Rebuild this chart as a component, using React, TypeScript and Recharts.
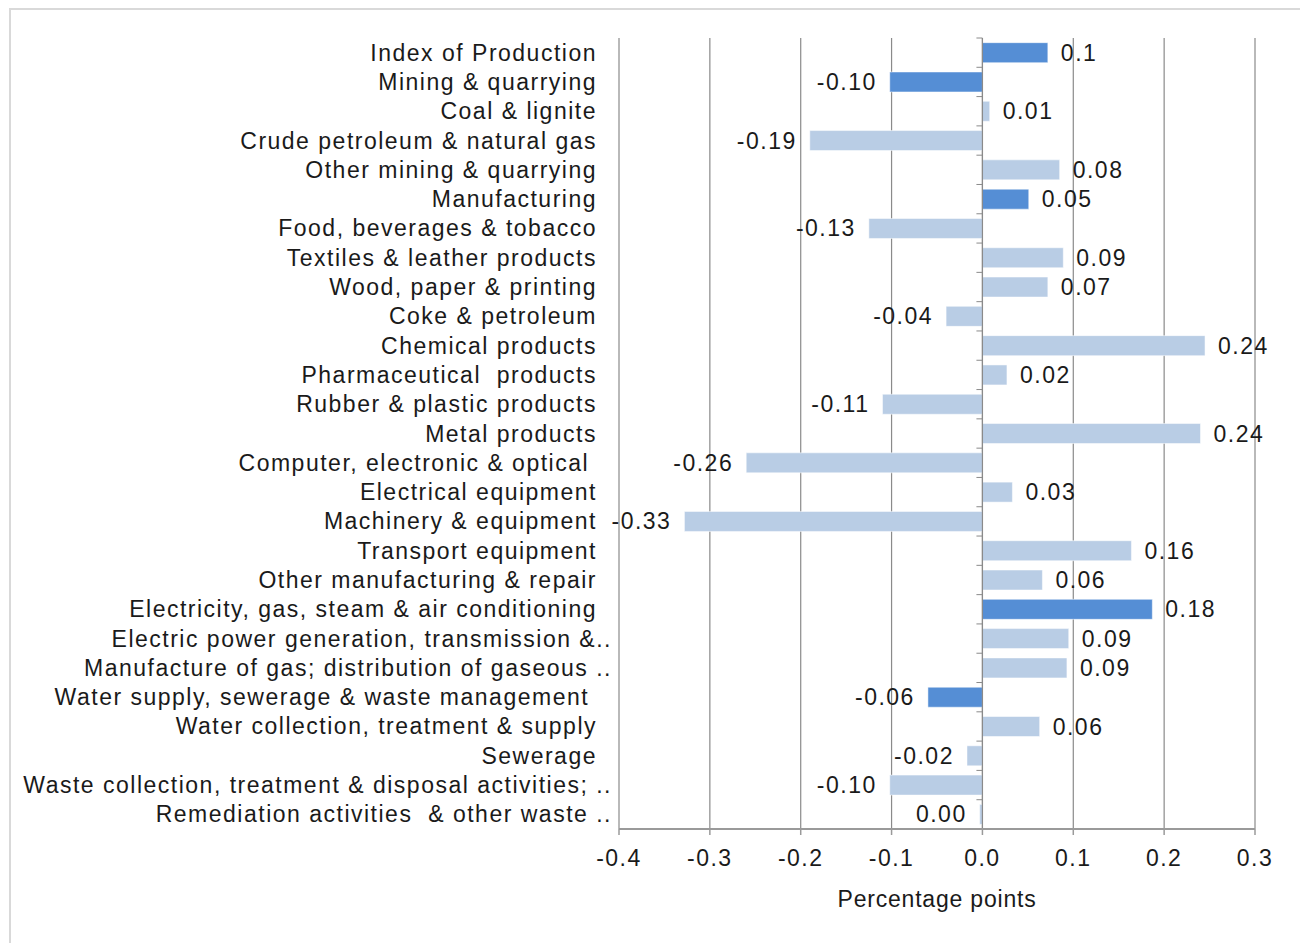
import React from 'react';
import { BarChart, Bar, XAxis, YAxis, CartesianGrid, Cell, LabelList, ReferenceLine } from 'recharts';

const categories = [
  'Index of Production',
  'Mining & quarrying',
  'Coal & lignite',
  'Crude petroleum & natural gas',
  'Other mining & quarrying',
  'Manufacturing',
  'Food, beverages & tobacco',
  'Textiles & leather products',
  'Wood, paper & printing',
  'Coke & petroleum',
  'Chemical products',
  'Pharmaceutical  products',
  'Rubber & plastic products',
  'Metal products',
  'Computer, electronic & optical ',
  'Electrical equipment',
  'Machinery & equipment',
  'Transport equipment',
  'Other manufacturing & repair',
  'Electricity, gas, steam & air conditioning',
  'Electric power generation, transmission &..',
  'Manufacture of gas; distribution of gaseous ..',
  'Water supply, sewerage & waste management ',
  'Water collection, treatment & supply',
  'Sewerage',
  'Waste collection, treatment & disposal activities; ..',
  'Remediation activities  & other waste ..',
];

const values = [
  0.072, -0.102, 0.008, -0.19, 0.085, 0.051, -0.125, 0.089, 0.072, -0.04,
  0.245, 0.027, -0.11, 0.24, -0.26, 0.033, -0.328, 0.164, 0.066, 0.187,
  0.095, 0.093, -0.06, 0.063, -0.017, -0.102, -0.003,
];

const valueLabels = [
  '0.1', '-0.10', '0.01', '-0.19', '0.08', '0.05', '-0.13', '0.09', '0.07', '-0.04',
  '0.24', '0.02', '-0.11', '0.24', '-0.26', '0.03', '-0.33', '0.16', '0.06', '0.18',
  '0.09', '0.09', '-0.06', '0.06', '-0.02', '-0.10', '0.00',
];

const totals = [
  'Index of Production',
  'Mining & quarrying',
  'Manufacturing',
  'Electricity, gas, steam & air conditioning',
  'Water supply, sewerage & waste management ',
];

const xTicks = [-0.4, -0.3, -0.2, -0.1, 0, 0.1, 0.2, 0.3];

const data = categories.map((name, i) => ({ name, value: values[i], label: valueLabels[i] }));

const FONT = '"Liberation Sans", Arial, sans-serif';
const GRID = '#8a8a8a';
const DARK = '#558ED5';
const LIGHT = '#B9CDE5';

const textStyle: React.CSSProperties = { letterSpacing: '1.5px', whiteSpace: 'pre' };

const CategoryTick = (props: any) => {
  const { x, y, payload } = props;
  const text: string = payload.value;
  const dx = text.endsWith('..') ? 15 : 0;
  return (
    <text x={x + dx} y={y} textAnchor="end" dominantBaseline="central" fontSize={23} fill="#1a1a1a" fontFamily={FONT} style={textStyle}>
      {text}
    </text>
  );
};

const ValueLabel = (props: any) => {
  const vb = props.viewBox ?? props;
  const x = vb.x ?? props.x;
  const y = vb.y ?? props.y;
  const width = vb.width ?? props.width;
  const height = vb.height ?? props.height;
  const idx = props.index;
  const value = idx != null ? data[idx].value : props.value;
  const text = idx != null ? data[idx].label : Number(props.value).toFixed(2);
  const positive = value >= 0;
  const end = positive ? Math.max(x, x + width) : Math.min(x, x + width);
  return (
    <text
      x={positive ? end + 13 : end - 13}
      y={y + height / 2}
      textAnchor={positive ? 'start' : 'end'}
      dominantBaseline="central"
      fontSize={23}
      fill="#1a1a1a"
      fontFamily={FONT}
      style={textStyle}
    >
      {text}
    </text>
  );
};

const ZeroAxis = (props: any) => {
  const { x1, y1, x2, y2 } = props;
  const n = categories.length;
  const step = (y2 - y1) / n;
  const ticks = [];
  for (let i = 0; i <= n; i++) {
    ticks.push(<line key={i} x1={x1 - 6} x2={x1} y1={y1 + i * step} y2={y1 + i * step} stroke={GRID} strokeWidth={1} />);
  }
  return (
    <g>
      <line x1={x1} y1={y1} x2={x2} y2={y2} stroke={GRID} strokeWidth={1.2} />
      {ticks}
    </g>
  );
};

export default function App() {
  return (
    <div style={{ position: 'absolute', left: 0, top: 0, width: 1300, height: 943, background: '#fff', overflow: 'hidden', fontFamily: FONT }}>
      <div style={{ position: 'absolute', left: 9, top: 8, width: 1310, height: 960, border: '2px solid #d9d9d9', boxSizing: 'border-box' }} />
      <div style={{ position: 'absolute', left: 0, top: 0 }}>
        <BarChart
          width={1300}
          height={943}
          data={data}
          layout="vertical"
          margin={{ top: 38, right: 45, bottom: 14, left: 0 }}
          barCategoryGap="16%"
        >
          <CartesianGrid horizontal={false} stroke={GRID} strokeWidth={1.2} />
          <XAxis
            type="number"
            domain={[-0.4, 0.3]}
            ticks={xTicks}
            tickFormatter={(v: number) => v.toFixed(1)}
            allowDataOverflow
            height={100}
            axisLine={{ stroke: '#9a9a9a', strokeWidth: 2 }}
            tickLine={{ stroke: '#9a9a9a', strokeWidth: 1.5 }}
            tickSize={6}
            tickMargin={15}
            tick={{ fontSize: 23, fill: '#1a1a1a', fontFamily: FONT, style: { letterSpacing: '1.5px' } }}
            label={{ value: 'Percentage points', position: 'insideBottom', offset: 22, fontSize: 23, fill: '#1a1a1a', fontFamily: FONT, style: { letterSpacing: '0.8px' } }}
          />
          <YAxis
            type="category"
            dataKey="name"
            width={619}
            axisLine={false}
            tickLine={false}
            tickSize={0}
            tickMargin={22}
            interval={0}
            tick={<CategoryTick />}
          />
          <Bar dataKey="value" isAnimationActive={false} stroke="#ffffff" strokeOpacity={0.5} strokeWidth={1}>
            {data.map((d) => (
              <Cell key={d.name} fill={totals.includes(d.name) ? DARK : LIGHT} />
            ))}
            <LabelList dataKey="value" content={<ValueLabel />} />
          </Bar>
          <ReferenceLine x={0} shape={<ZeroAxis />} />
        </BarChart>
      </div>
    </div>
  );
}
